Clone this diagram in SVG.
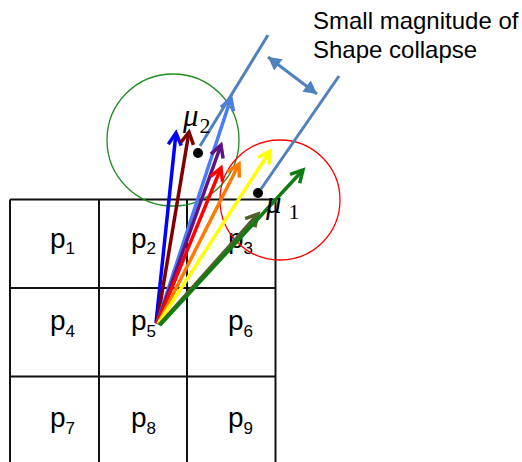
<svg xmlns="http://www.w3.org/2000/svg" width="522" height="462" viewBox="0 0 522 462">
<style>
.grid{stroke:#111;stroke-width:2;fill:none}
.lbl{font-family:"Liberation Sans",Arial,sans-serif;font-size:28px;fill:#000}
.sub{font-size:17px}
.mu{font-family:"Liberation Serif","Times New Roman",serif;font-style:italic;font-size:31px;fill:#000}
.musub{font-style:normal;font-size:22px}
.note{font-family:"Liberation Sans",Arial,sans-serif;font-size:24px;fill:#000}
.arr{fill:none;stroke-width:3.5;stroke-linecap:butt}
.bl{stroke:#4F81BD;stroke-width:3;fill:none}
</style>
<defs>
<marker id="h-blue" markerUnits="userSpaceOnUse" orient="auto" markerWidth="30" markerHeight="30" refX="0" refY="0" viewBox="-15 -15 30 30" overflow="visible"><path d="M-12,-6.5 L0,0 L-12,6.5" fill="none" stroke="#0000FF" stroke-width="3.5"/></marker>
<marker id="h-maroon" markerUnits="userSpaceOnUse" orient="auto" markerWidth="30" markerHeight="30" refX="0" refY="0" viewBox="-15 -15 30 30" overflow="visible"><path d="M-12,-6.5 L0,0 L-12,6.5" fill="none" stroke="#800000" stroke-width="3.5"/></marker>
<marker id="h-corn" markerUnits="userSpaceOnUse" orient="auto" markerWidth="30" markerHeight="30" refX="0" refY="0" viewBox="-15 -15 30 30" overflow="visible"><path d="M-12,-6.5 L0,0 L-12,6.5" fill="none" stroke="#4A7BFA" stroke-width="3.5"/></marker>
<marker id="h-purple" markerUnits="userSpaceOnUse" orient="auto" markerWidth="30" markerHeight="30" refX="0" refY="0" viewBox="-15 -15 30 30" overflow="visible"><path d="M-12,-6.5 L0,0 L-12,6.5" fill="none" stroke="#5E1380" stroke-width="3.5"/></marker>
<marker id="h-red" markerUnits="userSpaceOnUse" orient="auto" markerWidth="30" markerHeight="30" refX="0" refY="0" viewBox="-15 -15 30 30" overflow="visible"><path d="M-12,-6.5 L0,0 L-12,6.5" fill="none" stroke="#FF0000" stroke-width="3.5"/></marker>
<marker id="h-orange" markerUnits="userSpaceOnUse" orient="auto" markerWidth="30" markerHeight="30" refX="0" refY="0" viewBox="-15 -15 30 30" overflow="visible"><path d="M-12,-6.5 L0,0 L-12,6.5" fill="none" stroke="#FF7A00" stroke-width="3.5"/></marker>
<marker id="h-yellow" markerUnits="userSpaceOnUse" orient="auto" markerWidth="30" markerHeight="30" refX="0" refY="0" viewBox="-15 -15 30 30" overflow="visible"><path d="M-12,-6.5 L0,0 L-12,6.5" fill="none" stroke="#FFFF00" stroke-width="3.5"/></marker>
<marker id="h-olive" markerUnits="userSpaceOnUse" orient="auto" markerWidth="30" markerHeight="30" refX="0" refY="0" viewBox="-15 -15 30 30" overflow="visible"><path d="M-12,-6.5 L0,0 L-12,6.5" fill="none" stroke="#4F6228" stroke-width="3.5"/></marker>
<marker id="h-green" markerUnits="userSpaceOnUse" orient="auto" markerWidth="30" markerHeight="30" refX="0" refY="0" viewBox="-15 -15 30 30" overflow="visible"><path d="M-12,-6.5 L0,0 L-12,6.5" fill="none" stroke="#137B13" stroke-width="3.5"/></marker>
<marker id="h-fill" markerUnits="userSpaceOnUse" orient="auto-start-reverse" markerWidth="30" markerHeight="30" refX="0" refY="0" viewBox="-15 -15 30 30" overflow="visible"><path d="M-13,-7 L0,0 L-13,7 Z" fill="#4F81BD"/></marker>
</defs>

<g id="grid">
<path class="grid" d="M10,199.5 H275.5 M10,288 H275.5 M10,376.5 H275.5 M10,199.5 V462 M99,199.5 V462 M187,199.5 V462 M275.5,199.5 V462"/>
</g>

<g id="p1"><text class="lbl" x="50" y="248">p<tspan class="sub" dy="6">1</tspan></text></g>
<g id="p2"><text class="lbl" x="131" y="248">p<tspan class="sub" dy="6">2</tspan></text></g>
<g id="p3"><text class="lbl" x="228" y="248">p<tspan class="sub" dy="6">3</tspan></text></g>
<g id="p4"><text class="lbl" x="50" y="330">p<tspan class="sub" dy="7">4</tspan></text></g>
<g id="p5"><text class="lbl" x="131" y="330">p<tspan class="sub" dy="7">5</tspan></text></g>
<g id="p6"><text class="lbl" x="228" y="330">p<tspan class="sub" dy="7">6</tspan></text></g>
<g id="p7"><text class="lbl" x="50" y="427">p<tspan class="sub" dy="7">7</tspan></text></g>
<g id="p8"><text class="lbl" x="131" y="427">p<tspan class="sub" dy="7">8</tspan></text></g>
<g id="p9"><text class="lbl" x="228" y="427">p<tspan class="sub" dy="7">9</tspan></text></g>

<g id="cluster2"><circle cx="173" cy="140" r="66" fill="none" stroke="#1E8C1E" stroke-width="1.3"/></g>
<g id="cluster1"><circle cx="280" cy="200" r="60" fill="none" stroke="#FF0000" stroke-width="1.3"/></g>

<g id="connectors">
<line class="arr" x1="156" y1="323" x2="176" y2="133" stroke="#0000FF" marker-end="url(#h-blue)"/>
<line class="arr" x1="157" y1="323" x2="189" y2="132" stroke="#800000" marker-end="url(#h-maroon)"/>
<line class="arr" x1="157" y1="323" x2="231" y2="98" stroke="#4A7BFA" marker-end="url(#h-corn)"/>
<line class="arr" x1="157" y1="324" x2="221" y2="145" stroke="#5E1380" marker-end="url(#h-purple)"/>
<line class="arr" x1="157" y1="324" x2="221" y2="168" stroke="#FF0000" marker-end="url(#h-red)"/>
<line class="arr" x1="158" y1="324" x2="239" y2="164" stroke="#FF7A00" marker-end="url(#h-orange)"/>
<line class="arr" x1="158" y1="324" x2="270" y2="151" stroke="#FFFF00" marker-end="url(#h-yellow)"/>
<line class="arr" x1="159" y1="325" x2="258" y2="214" stroke="#4F6228" marker-end="url(#h-olive)"/>
<line class="arr" x1="160" y1="325" x2="303" y2="170" stroke="#137B13" marker-end="url(#h-green)"/>
<line class="bl" x1="200" y1="146" x2="268" y2="35"/>
<line class="bl" x1="261" y1="189" x2="339" y2="76"/>
<line class="bl" x1="268" y1="57" x2="317" y2="94" marker-start="url(#h-fill)" marker-end="url(#h-fill)"/>
</g>

<g id="mu2">
<circle cx="198" cy="153" r="5" fill="#000"/>
<text class="mu" x="183" y="126">μ<tspan class="musub" dy="7" dx="1">2</tspan></text>
</g>
<g id="mu1">
<circle cx="258" cy="193" r="5" fill="#000"/>
<text class="mu" x="266" y="213">μ<tspan class="musub" dy="6" dx="7">1</tspan></text>
</g>

<g id="note">
<text class="note" x="313" y="29">Small magnitude of</text>
<text class="note" x="313" y="58">Shape collapse</text>
</g>
</svg>
